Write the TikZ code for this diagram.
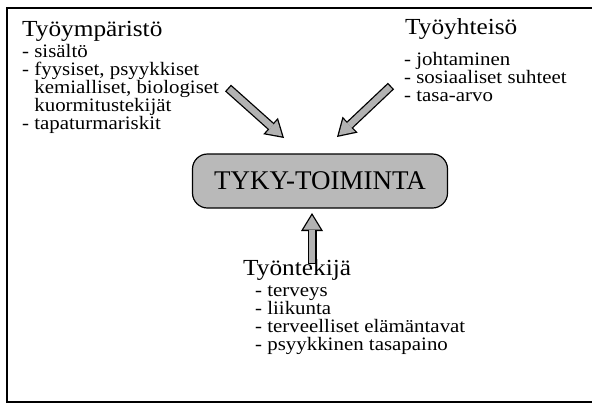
\documentclass[tikz,border=0pt]{standalone}
\usepackage{fontspec}
\setmainfont{Liberation Serif}
\newfontfamily\widefont[FakeStretch=1.1]{Liberation Serif}
\usetikzlibrary{arrows.meta}
\newcommand\listfont{\widefont\fontsize{19}{18}\selectfont\lineskiplimit-20pt\relax}

\begin{document}
\begin{tikzpicture}[x=1pt,y=-1pt,
    head/.style={anchor=base west,inner sep=0pt,font=\widefont\fontsize{23}{26}\selectfont},
    items/.style={anchor=base west,inner sep=0pt,align=left,font=\listfont},
    tykybox/.style={draw,line width=1.2pt,fill=gray!55,rounded corners=15pt,
        minimum width=255pt,minimum height=54pt,font=\fontsize{27}{30}\selectfont},
    arrowrim/.style={line width=9pt,-{Triangle[length=18pt,width=22pt,line width=0pt]}},
    arrowcore/.style={line width=6.4pt,gray!60,shorten >=2.5pt,shorten <=1.3pt,
        -{Triangle[length=14.2pt,width=17.4pt,line width=0pt]}}]
\useasboundingbox (0,0) rectangle (592,405);
% frame
\draw[line width=1.3pt] (592,8) -- (7,8) -- (7,402) -- (592,402);

\node[tykybox] (tyky) at (320,181) {TYKY-TOIMINTA};

% base of a list node = baseline of its last line
\node[head] (envHead) at (22,36) {Työympäristö};
\node[items] (envList) at (22,129) {- sisältö\\- fyysiset, psyykkiset\\
    \hphantom{- }kemialliset, biologiset\\\hphantom{- }kuormitustekijät\\- tapaturmariskit};

\node[head] (comHead) at (405,34) {Työyhteisö};
\node[items] (comList) at (404,101) {- johtaminen\\- sosiaaliset suhteet\\- tasa-arvo};

\node[head] (empHead) at (243,275) {Työntekijä};
\node[items] (empList) at (255,350) {- terveys\\- liikunta\\- terveelliset elämäntavat\\
    - psyykkinen tasapaino};

\coordinate (envTail) at (228,88);
\coordinate (envTip) at (284,138);
\coordinate (comTail) at (391,86);
\coordinate (comTip) at (337,137);
\coordinate (empTail) at (312,264);
\coordinate (empTip) at (312,213);
\foreach \a/\b in {envTail/envTip,comTail/comTip,empTail/empTip}
{
    \draw[arrowrim] (\a) -- (\b);
    \draw[arrowcore] (\a) -- (\b);
}
\end{tikzpicture}
\end{document}
